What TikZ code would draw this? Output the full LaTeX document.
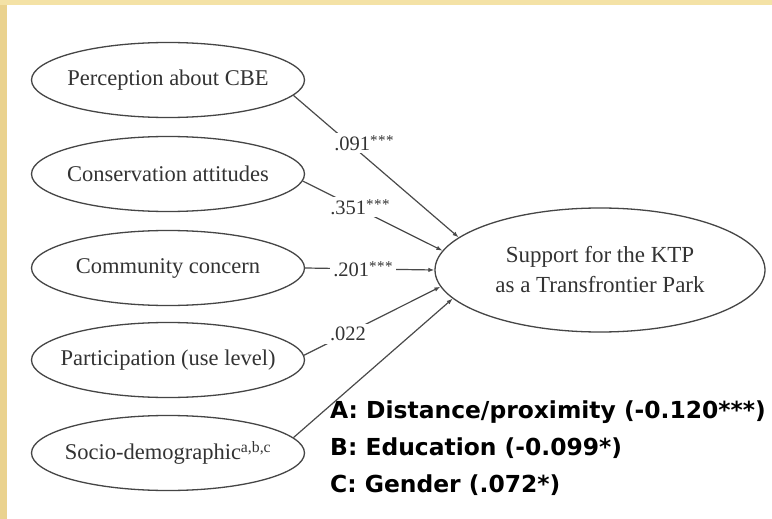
\documentclass[tikz,border=0pt]{standalone}
\usepackage{fontspec}
\setmainfont{Liberation Serif}
\newfontfamily\legendfont{DejaVu Sans}
\usetikzlibrary{arrows.meta,shapes.geometric}
\definecolor{edgecol}{HTML}{454545}
\definecolor{linecol}{HTML}{4A4A4A}
\definecolor{txtcol}{HTML}{333333}
\definecolor{leftgold}{HTML}{EAD28E}
\definecolor{topgold}{HTML}{F4E2A6}
\tikzset{
  srcbox/.style={ellipse, draw=edgecol, line width=1.3pt, minimum width=273pt, minimum height=75pt,
    inner sep=0pt, label={[text=txtcol, font=\fontsize{22.5}{26}\selectfont]center:#1}},
  tgtbox/.style={ellipse, draw=edgecol, line width=1.3pt, minimum width=330pt, minimum height=124pt,
    inner sep=0pt},
  tgttext/.style={align=center, text=txtcol, font=\fontsize{23}{30}\selectfont},
  coef/.style={fill=white, inner sep=3pt, text=txtcol, font=\fontsize{20.5}{22}\selectfont},
  link/.style={draw=linecol, line width=1.2pt, -{Latex[length=6pt,width=4.5pt]}},
  legendtxt/.style={anchor=west, inner sep=0pt, text=black, font=\legendfont\bfseries\fontsize{23.4}{28}\selectfont}
}
\newcommand{\stars}{\raisebox{4.5pt}{\fontsize{15}{15}\selectfont *\kern0.5pt*\kern0.5pt*}}
\begin{document}
\begin{tikzpicture}[x=1pt,y=-1pt]
\useasboundingbox (0,0) rectangle (772,519);
\fill[white] (0,0) rectangle (772,519);
\fill[leftgold] (0,0) rectangle (7,519);
\fill[topgold] (0,0) rectangle (772,5);

\node[srcbox={Perception about CBE}] (s1) at (168,80) {};
\node[srcbox={Conservation attitudes}] (s2) at (168,174) {};
\node[srcbox={Community concern}] (s3) at (168,268) {};
\node[srcbox={Participation (use level)}] (s4) at (168,360) {};
\node[srcbox={Socio-demographic\textsuperscript{a,b,c}}] (s5) at (168,453) {};
\node[tgtbox] (t) at (600,270) {};
\node[tgttext] (tt) at (t.center) {Support for the KTP\\as a Transfrontier Park};

\draw[link] (s1.-7) -- (t.167);
\draw[link] (s2.-3) -- (t.173);
\draw[link] (s3.east) -- (t.west);
\draw[link] (s4.2) -- (t.186);
\draw[link] (s5.7) -- (t.191);

\node[coef] (c1) at (364,143) {.091\stars};
\node[coef] (c2) at (360,207) {.351\stars};
\node[coef] (c3) at (363,269) {.201\stars};
\node[coef, inner xsep=9pt] (c4) at (348,334) {.022};

\node[legendtxt] (la) at (330,412) {A: Distance/proximity (-0.120***)};
\node[legendtxt] (lb) at (330,448) {B: Education (-0.099*)};
\node[legendtxt] (lc) at (330,485) {C: Gender (.072*)};
\end{tikzpicture}
\end{document}
